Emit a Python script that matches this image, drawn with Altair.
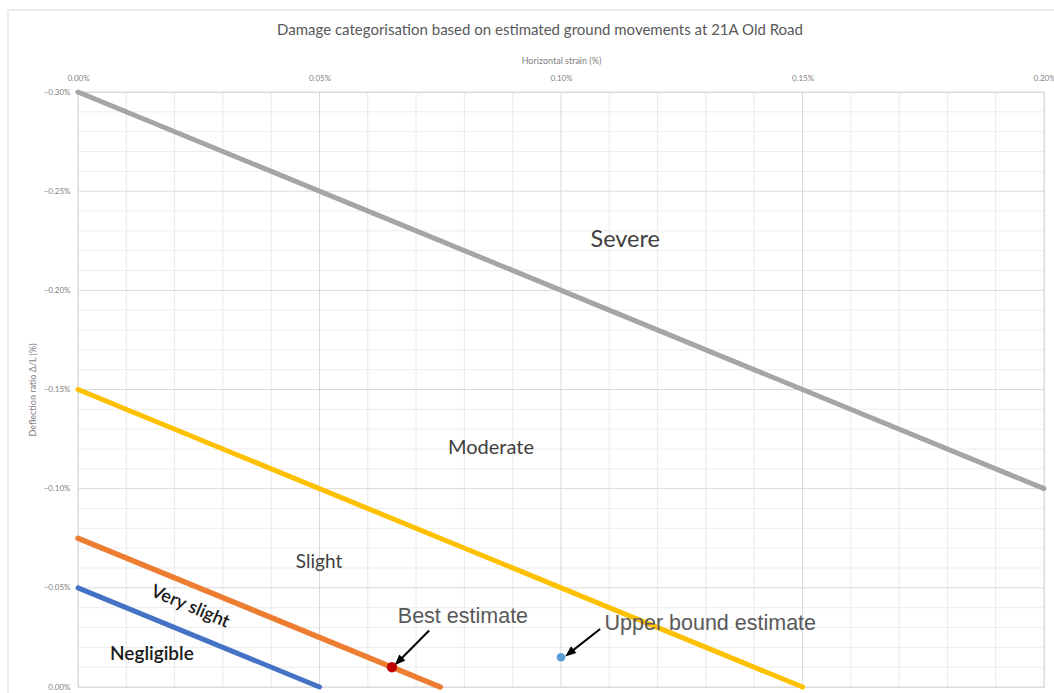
import altair as alt
import pandas as pd

# --- data ---
categories = ["Severe limit", "Moderate limit", "Slight limit", "Very slight limit"]
line_x_start = [0.0, 0.0, 0.0, 0.0]
line_y_start = [-0.30, -0.15, -0.075, -0.05]
line_x_end = [0.20, 0.15, 0.075, 0.05]
line_y_end = [-0.10, 0.0, 0.0, 0.0]
line_colors = ["#a5a5a5", "#ffc000", "#ed7d31", "#4472c4"]
line_widths = [5, 5, 5.5, 5]

point_names = ["Best estimate", "Upper bound estimate"]
point_x = [0.065, 0.100]
point_y = [-0.010, -0.015]
point_colors = ["#c00000", "#5b9bd5"]
point_sizes = [110, 75]

zone_labels = ["Severe", "Moderate", "Slight"]
zone_x = [0.1133, 0.0855, 0.0499]
zone_y = [-0.2254, -0.1205, -0.063]
zone_sizes = [23.5, 20, 19]

vs_label = ["Very slight"]
vs_x = [0.0232]
vs_y = [-0.0403]

neg_label = ["Negligible"]
neg_x = [0.0153]
neg_y = [-0.0166]

ann_labels = ["Best estimate", "Upper bound estimate"]
ann_x = [0.0797, 0.1309]
ann_y = [-0.0353, -0.0318]

arrow_x_tail = [0.0727, 0.1081]
arrow_y_tail = [-0.0285, -0.0292]
arrow_x_head = [0.0664, 0.1018]
arrow_y_head = [-0.0130, -0.0172]
arrow_angles = [225, 232]

x_major = [0.0, 0.05, 0.10, 0.15, 0.20]
y_major = [-0.30, -0.25, -0.20, -0.15, -0.10, -0.05, 0.0]
x_minor = [0.01, 0.02, 0.03, 0.04, 0.06, 0.07, 0.08, 0.09, 0.11, 0.12, 0.13, 0.14,
           0.16, 0.17, 0.18, 0.19]
y_minor = [-0.29, -0.28, -0.27, -0.26, -0.24, -0.23, -0.22, -0.21, -0.19, -0.18,
           -0.17, -0.16, -0.14, -0.13, -0.12, -0.11, -0.09, -0.08, -0.07, -0.06,
           -0.04, -0.03, -0.02, -0.01]

title_text = "Damage categorisation based on estimated ground movements at 21A Old Road"

W, H = 966, 595

lines_df = pd.DataFrame({
    "cat": categories, "x": line_x_start, "y": line_y_start,
    "x2": line_x_end, "y2": line_y_end,
    "color": line_colors, "w": line_widths,
})
points_df = pd.DataFrame({"name": point_names, "x": point_x, "y": point_y,
                          "color": point_colors, "size": point_sizes})
zones_df = pd.DataFrame({"t": zone_labels, "x": zone_x, "y": zone_y, "s": zone_sizes})
vs_df = pd.DataFrame({"t": vs_label, "x": vs_x, "y": vs_y})
neg_df = pd.DataFrame({"t": neg_label, "x": neg_x, "y": neg_y})
ann_df = pd.DataFrame({"t": ann_labels, "x": ann_x, "y": ann_y})
arrows_df = pd.DataFrame({"x": arrow_x_tail, "y": arrow_y_tail,
                          "x2": arrow_x_head, "y2": arrow_y_head, "a": arrow_angles})

xscale = alt.Scale(domain=[0, 0.20], nice=False, zero=False)
yscale = alt.Scale(domain=[-0.30, 0.0], nice=False, zero=False, reverse=True)

xaxis = alt.Axis(
    orient="top", values=x_major, title="Horizontal strain (%)",
    labelExpr="format(datum.value, '.2f') + '%'",
    labelFont="Lato", labelFontSize=8, labelColor="#7f7f7f", labelPadding=10,
    titleFont="Lato", titleFontSize=9, titleFontWeight="normal", titleColor="#7f7f7f",
    titlePadding=9, ticks=False, domain=False, grid=False,
    labelOverlap=False, labelFlush=False,
)
yaxis = alt.Axis(
    orient="left", values=y_major, title="Deflection ratio Δ/L (%)",
    labelExpr="format(datum.value, '.2f') + '%'",
    labelFont="Lato", labelFontSize=8, labelColor="#7f7f7f", labelPadding=8,
    titleFont="Lato", titleFontSize=9, titleFontWeight="normal", titleColor="#7f7f7f",
    titlePadding=6, ticks=False, domain=False, grid=False,
    labelOverlap=False,
)

border = alt.Chart(pd.DataFrame({"a": [0]})).mark_rect(
    fill=None, stroke="#d9d9d9", strokeWidth=1
).encode(x=alt.value(-70), y=alt.value(-82), x2=alt.value(W + 30), y2=alt.value(H + 30))

title = alt.Chart(pd.DataFrame({"t": [title_text]})).mark_text(
    font="Lato", fontSize=15, color="#595959", align="center", baseline="middle"
).encode(x=alt.value(462), y=alt.value(-62), text="t:N")

xminor = alt.Chart(pd.DataFrame({"v": x_minor})).mark_rule(color="#e9e9e9", strokeWidth=1).encode(
    x=alt.X("v:Q", scale=xscale, axis=xaxis))
yminor = alt.Chart(pd.DataFrame({"v": y_minor})).mark_rule(color="#ececec", strokeWidth=1).encode(
    y=alt.Y("v:Q", scale=yscale, axis=yaxis))
xmajor = alt.Chart(pd.DataFrame({"v": x_major})).mark_rule(color="#d9d9d9", strokeWidth=1).encode(
    x=alt.X("v:Q", scale=xscale))
ymajor = alt.Chart(pd.DataFrame({"v": y_major})).mark_rule(color="#d9d9d9", strokeWidth=1).encode(
    y=alt.Y("v:Q", scale=yscale))

lines = alt.Chart(lines_df).mark_rule(strokeCap="round").encode(
    x=alt.X("x:Q", scale=xscale),
    y=alt.Y("y:Q", scale=yscale),
    x2="x2:Q", y2="y2:Q",
    color=alt.Color("color:N", scale=None),
    strokeWidth=alt.StrokeWidth("w:Q", scale=None),
)

points = alt.Chart(points_df).mark_point(filled=True, opacity=1, shape="circle").encode(
    x=alt.X("x:Q", scale=xscale), y=alt.Y("y:Q", scale=yscale),
    color=alt.Color("color:N", scale=None),
    size=alt.Size("size:Q", scale=None),
)

zones = alt.Chart(zones_df).mark_text(font="Lato", color="#404040").encode(
    x=alt.X("x:Q", scale=xscale), y=alt.Y("y:Q", scale=yscale),
    text="t:N", size=alt.Size("s:Q", scale=None),
)

vs = alt.Chart(vs_df).mark_text(font="Lato", fontSize=18, fontWeight=600,
                                color="#1a1a1a", angle=23).encode(
    x=alt.X("x:Q", scale=xscale), y=alt.Y("y:Q", scale=yscale), text="t:N")

neg = alt.Chart(neg_df).mark_text(font="Lato", fontSize=19, fontWeight=600,
                                  color="#1a1a1a").encode(
    x=alt.X("x:Q", scale=xscale), y=alt.Y("y:Q", scale=yscale), text="t:N")

ann = alt.Chart(ann_df).mark_text(font="Liberation Sans", fontSize=21.5,
                                  color="#595959").encode(
    x=alt.X("x:Q", scale=xscale), y=alt.Y("y:Q", scale=yscale), text="t:N")

arrow_shafts = alt.Chart(arrows_df).mark_rule(color="#000000", strokeWidth=2).encode(
    x=alt.X("x:Q", scale=xscale), y=alt.Y("y:Q", scale=yscale),
    x2="x2:Q", y2="y2:Q")

arrow_heads = alt.Chart(arrows_df).mark_point(
    shape="M0,-1L0.75,0.9L-0.75,0.9Z", filled=True, color="#000000", opacity=1, size=130
).encode(
    x=alt.X("x2:Q", scale=xscale), y=alt.Y("y2:Q", scale=yscale),
    angle=alt.Angle("a:Q", scale=None),
)

chart = alt.layer(
    border, title, xminor, yminor, xmajor, ymajor, lines, arrow_shafts, arrow_heads,
    points, zones, vs, neg, ann
).properties(
    width=W, height=H,
    autosize=alt.AutoSizeParams(type="none"),
    padding={"left": 78, "top": 92, "right": 10, "bottom": 6},
).configure_view(stroke=None).configure(background="white")

chart.save("out.html", embed_options={"renderer": "svg", "actions": False})
